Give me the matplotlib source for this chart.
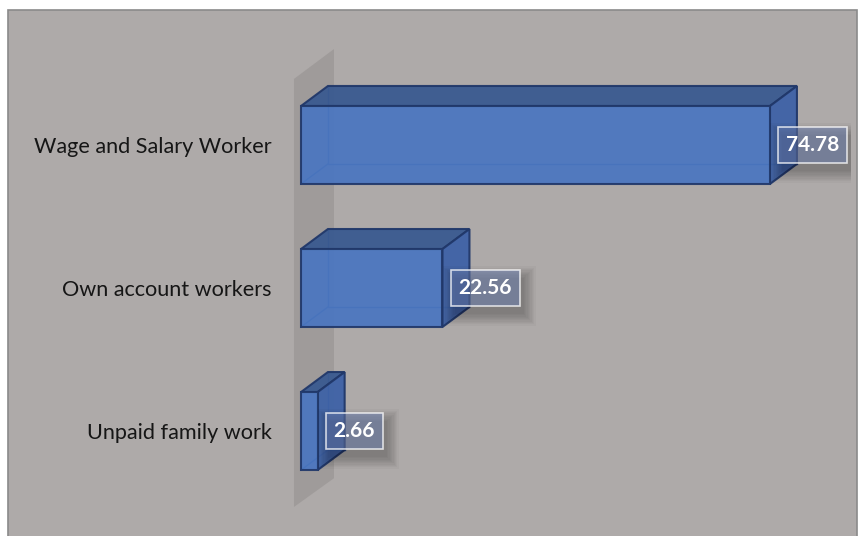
import matplotlib
matplotlib.use("Agg")
import matplotlib.pyplot as plt
from matplotlib.patches import Polygon, Rectangle
from matplotlib.transforms import IdentityTransform

categories = ["Wage and Salary Worker", "Own account workers", "Unpaid family work"]
shares = [74.78, 22.56, 2.66]

BG = "#AEAAA9"
FRONT = "#4A76C0"
TOP = "#3A5A90"
SIDE = "#3E62A6"
EDGE = "#21386A"
WALL = "#9D9998"

W, H = 858, 536
fig = plt.figure(figsize=(W / 100, H / 100), dpi=100)
fig.patch.set_facecolor("white")
fig.add_artist(Rectangle((8 / W, -0.01), 849 / W, 526 / H + 0.01, transform=fig.transFigure,
                         fc=BG, ec="#8A8A8A", lw=1.2, zorder=-1))

ax = fig.add_axes([301 / W, 16 / H, 550 / W, 480 / H])
ax.set_xlim(0, 87.7)
ax.set_ylim(2.622, -0.734)
ax.set_facecolor("none")
for s in ax.spines.values():
    s.set_visible(False)
ax.set_xticks([])
ax.set_yticks(range(len(categories)), categories)
ax.tick_params(axis="y", length=0, pad=21, labelsize=15.6, labelcolor="#161616")
for lab in ax.get_yticklabels():
    lab.set_family("Lato")

# depth offset of the 3d boxes (data units)
DX, DY = 4.3, -0.14
BH = 0.545

# side wall behind the bars
ax.add_patch(Polygon([(-1.12, -0.462), (5.26, -0.671), (5.26, 2.33), (-1.12, 2.531)],
                     closed=True, fc=WALL, ec="none", alpha=0.85, zorder=1, clip_on=False))

for i, v in enumerate(shares):
    top, bot = i - BH / 2, i + BH / 2
    # hidden back edges, seen through the translucent front face
    ax.plot([DX, DX, v + DX], [top + DY, bot + DY, bot + DY], color="#2F5597", lw=1, zorder=2, clip_on=False)
    ax.plot([0, DX], [bot, bot + DY], color="#2F5597", lw=1, zorder=2, clip_on=False)
    ax.add_patch(Polygon([(0, top), (v, top), (v + DX, top + DY), (DX, top + DY)],
                         closed=True, fc=TOP, ec=EDGE, lw=1.5, alpha=0.95, zorder=3, clip_on=False))
    ax.add_patch(Polygon([(v, top), (v + DX, top + DY), (v + DX, bot + DY), (v, bot)],
                         closed=True, fc=SIDE, ec=EDGE, lw=1.5, alpha=0.95, zorder=3, clip_on=False))
    ax.add_patch(Rectangle((0, top), v, BH, fc=FRONT, ec=EDGE, lw=1.5, alpha=0.93, zorder=4, clip_on=False))

labels = []
for i, v in enumerate(shares):
    t = ax.annotate(f"{v:.2f}", (v, i), xytext=(11.5, 0), textcoords="offset points",
                    ha="left", va="center", color="white", fontweight="bold", fontsize=15,
                    family="Lato", zorder=7,
                    bbox=dict(boxstyle="square,pad=0.38", fc=(0.42, 0.5, 0.7, 0.5),
                              ec=(1, 1, 1, 0.75), lw=1.2))
    labels.append(t)

# soft drop shadow under each value box
fig.canvas.draw()
r = fig.canvas.get_renderer()
for t in labels:
    bb = t.get_bbox_patch().get_window_extent(r)
    for k in range(10):
        g = k * 1.3
        ax.add_artist(Rectangle((bb.x0 + 4 - g, bb.y0 - 8 - g), bb.width + 2 * g, bb.height + 2 * g,
                                transform=IdentityTransform(), fc="black", alpha=0.028, lw=0, zorder=6))

fig.savefig("out.png", dpi=100)
